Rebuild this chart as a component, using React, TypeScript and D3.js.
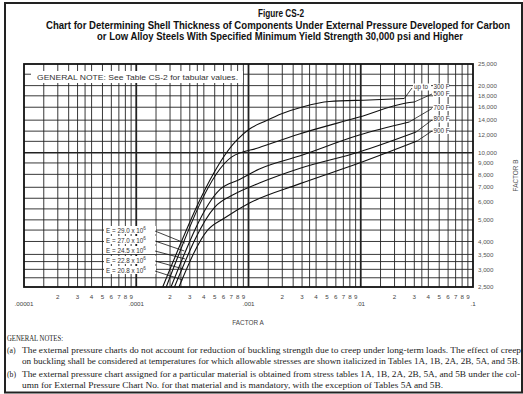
import * as d3 from "d3";

// ---- data ----
const decades = [1e-5, 1e-4, 1e-3, 1e-2];
const decadeLabels = [".00001", ".0001", ".001", ".01", ".1"];
const decadeValues = [1e-5, 1e-4, 1e-3, 1e-2, 1e-1];
const minorMultipliers = [1.5, 2, 2.5, 3, 3.5, 4, 5, 6, 7, 8, 9];
const minorLabels = [2, 3, 4, 5, 6, 7, 8, 9];

const bTicks = [25000, 20000, 18000, 16000, 14000, 12000, 10000, 9000, 8000, 7000, 6000, 5000, 4000, 3500, 3000, 2500];
const bGrid = [22500, 20000, 18000, 16000, 14000, 12500, 11250, 10000, 9000, 8000, 7000, 6250, 5600, 5000, 4500, 4000, 3500, 3250, 3000, 2750];

const tempLabels = ["300 F", "500 F", "700 F", "800 F", "900 F"];
const modulusLabels = ["29.0", "27.0", "24.5", "22.8", "20.8"];

const a300 = [1.72e-4, 7.86e-4, 1.02e-3, 1.39e-3, 2.0e-3, 3.02e-3, 5.25e-3, 1.19e-2, 2.44e-2];
const b300 = [2500, 11400, 12780, 13820, 15000, 16040, 16970, 17240, 17500];
const a500 = [1.85e-4, 7.1e-4, 1.25e-3, 2.84e-3, 9.7e-3, 2.54e-2, 2.99e-2];
const b500 = [2500, 9580, 10550, 12140, 14460, 16700, 16880];
const a700 = [2.04e-4, 5.61e-4, 8.32e-4, 1.25e-3, 2.84e-3, 9.7e-3, 2.7e-2];
const b700 = [2500, 6870, 7585, 8455, 9670, 12010, 13740];
const a800 = [2.19e-4, 5.01e-4, 7.52e-4, 1.25e-3, 2.84e-3, 9.7e-3, 3.11e-2];
const b800 = [2500, 5710, 6530, 7315, 8500, 10080, 12390];
const a900 = [2.4e-4, 4.34e-4, 6.12e-4, 1.02e-3, 2.84e-3, 9.7e-3, 3.18e-2];
const b900 = [2500, 4510, 5100, 5950, 7250, 8995, 11290];

const curvesA = [a300, a500, a700, a800, a900];
const curvesB = [b300, b500, b700, b800, b900];

// where the E leaders touch the straight part of each line
const leaderB = [3935, 3625, 3340, 3010, 2690];

const titleLines = [
  "Figure CS-2",
  "Chart for Determining Shell Thickness of Components Under External Pressure Developed for Carbon",
  "or Low Alloy Steels With Specified Minimum Yield Strength 30,000 psi and Higher",
];

const noteLines = [
  "The external pressure charts do not account for reduction of buckling strength due to creep under long-term loads. The effect of creep",
  "on buckling shall be considered at temperatures for which allowable stresses are shown italicized in Tables 1A, 1B, 2A, 2B, 5A, and 5B.",
  "The external pressure chart assigned for a particular material is obtained from stress tables 1A, 1B, 2A, 2B, 5A, and 5B under the col-",
  "umn for External Pressure Chart No. for that material and is mandatory, with the exception of Tables 5A and 5B.",
];

const W = 523;
const H = 394;
const left = 24, right = 473, top = 64, bottom = 287;

const sans = "'Liberation Sans', Arial, Helvetica, sans-serif";
const serif = "'Liberation Serif', 'DejaVu Serif', serif";

export default function App() {
  const x = d3.scaleLog().domain([1e-5, 1e-1]).range([left, right]);
  const y = d3.scaleLog().domain([2500, 25000]).range([bottom, top]);
  const fmt = d3.format(",");

  const line = d3
    .line<[number, number]>()
    .x((d) => x(d[0]))
    .y((d) => y(d[1]))
    .curve(d3.curveMonotoneX);

  const curves = curvesA.map((as, i) => as.map((a, j) => [a, curvesB[i][j]] as [number, number]));

  const minorGrid = decades.flatMap((d) => minorMultipliers.map((m) => d * m));

  // point on the straight (elastic) part of a curve for a given B
  const onElastic = (i: number, b: number) => {
    const [a0, b0] = curves[i][0];
    const [a1, b1] = curves[i][1];
    const k = Math.log(a1 / a0) / Math.log(b1 / b0);
    return [x(a0 * Math.pow(b / b0, k)), y(b)];
  };

  const eLabelY = [231, 241, 251, 261, 271];
  const tempLabelY = [89, 95.5, 109.5, 121, 132.5];
  const tempLeaderEnd: [number, number][] = [
    [412, 88],
    [432, 94],
    [432, 108.5],
    [432, 120],
    [432, 131],
  ];

  // title: centre x, baseline y, target width
  const titlePos = [
    [281, 17, 46],
    [278, 28.5, 464],
    [280, 40, 366],
  ];
  const squeeze = 0.8;

  return (
    <svg width={W} height={H} style={{ position: "absolute", left: 0, top: 0, background: "#fff" }}>
      <rect x={5} y={3} width={517} height={389.5} fill="#fff" stroke="#222" strokeWidth={2} />

      {/* title */}
      <g fontFamily={sans} fontWeight="bold" fontSize={10.2} fill="#111" textAnchor="middle">
        {titleLines.map((t, i) => {
          const [cx, cy, w] = titlePos[i];
          return (
            <text
              key={i}
              transform={`translate(${cx},${cy}) scale(${squeeze},1)`}
              textLength={w / squeeze}
              lengthAdjust="spacingAndGlyphs"
            >
              {t}
            </text>
          );
        })}
      </g>

      {/* grid */}
      <g stroke="#222" strokeWidth={0.9}>
        {minorGrid.map((v, i) => (
          <line key={"v" + i} x1={x(v)} x2={x(v)} y1={top} y2={bottom} />
        ))}
        {bGrid.map((v, i) => (
          <line key={"h" + i} x1={left} x2={right} y1={y(v)} y2={y(v)} strokeWidth={v === 10000 ? 1.6 : 0.9} />
        ))}
        {decadeValues.slice(1, 4).map((v, i) => (
          <line key={"d" + i} x1={x(v)} x2={x(v)} y1={top} y2={bottom} strokeWidth={1.8} />
        ))}
      </g>
      <rect x={left} y={top} width={right - left} height={bottom - top} fill="none" stroke="#111" strokeWidth={1.8} />

      {/* general note box */}
      <rect x={31} y={71} width={212} height={12} fill="#fff" />
      <text x={37} y={79.5} fontFamily={sans} fontSize={7.6} fill="#333" textLength={201} lengthAdjust="spacingAndGlyphs">
        GENERAL NOTE: See Table CS-2 for tabular values.
      </text>

      {/* curves */}
      <g fill="none" stroke="#111" strokeWidth={1.1}>
        {curves.map((c, i) => (
          <path key={i} d={line(c) || ""} />
        ))}
      </g>

      {/* temperature labels */}
      <g fontFamily={sans} fontSize={6.3} fill="#333">
        {tempLabels.map((t, i) => {
          const last = curves[i][curves[i].length - 1];
          const [ex, ey] = tempLeaderEnd[i];
          return (
            <g key={t}>
              <line x1={x(last[0])} y1={y(last[1])} x2={ex} y2={ey} stroke="#111" strokeWidth={0.8} />
              <rect x={433} y={tempLabelY[i] - 5.5} width={16} height={7} fill="#fff" />
              <text x={433.5} y={tempLabelY[i]}>{t}</text>
            </g>
          );
        })}
        <rect x={413} y={tempLabelY[0] - 5.5} width={18} height={7} fill="#fff" />
        <text x={414} y={tempLabelY[0]}>up to</text>
      </g>

      {/* modulus labels */}
      <g fontFamily={sans} fontSize={6.3} fill="#333">
        {modulusLabels.map((m, i) => {
          const [px, py] = onElastic(i, leaderB[i]);
          return (
            <g key={m}>
              <rect x={104} y={eLabelY[i] - 5} width={52} height={8} fill="#fff" />
              <text x={106} y={eLabelY[i] + 2}>
                E = {m} x 10
                <tspan fontSize={4.6} dy={-2.6}>6</tspan>
              </text>
              <line x1={155} y1={eLabelY[i]} x2={px} y2={py} stroke="#111" strokeWidth={0.8} />
            </g>
          );
        })}
      </g>

      {/* y axis labels */}
      <g fontFamily={sans} fontSize={6.2} fill="#555">
        {bTicks.map((t) => (
          <text key={t} x={478} y={y(t) + 2.2}>{fmt(t)}</text>
        ))}
        <text transform={`translate(518,${(top + bottom) / 2}) rotate(-90)`} textAnchor="middle" fontSize={6.4}>
          FACTOR B
        </text>
      </g>

      {/* x axis labels */}
      <g fontFamily={sans} fontSize={6.2} fill="#444" textAnchor="middle">
        {decades.flatMap((d) =>
          minorLabels.map((m) => (
            <text key={d + "-" + m} x={x(d * m)} y={299}>{m}</text>
          ))
        )}
        {decadeValues.map((v, i) => (
          <text key={v} x={x(v)} y={306}>{decadeLabels[i]}</text>
        ))}
        <text x={248} y={325} fontSize={6.4}>FACTOR A</text>
      </g>

      {/* notes */}
      <g fontFamily={serif} fontSize={7.7} fill="#222">
        <text x={7} y={341} textLength={56} lengthAdjust="spacingAndGlyphs">GENERAL NOTES:</text>
        <text x={7} y={352.5}>(a)</text>
        <text x={22} y={352.5} textLength={499} lengthAdjust="spacingAndGlyphs">{noteLines[0]}</text>
        <text x={22} y={364} textLength={498} lengthAdjust="spacingAndGlyphs">{noteLines[1]}</text>
        <text x={7} y={376.5}>(b)</text>
        <text x={22} y={376.5} textLength={498} lengthAdjust="spacingAndGlyphs">{noteLines[2]}</text>
        <text x={22} y={387.5} textLength={421} lengthAdjust="spacingAndGlyphs">{noteLines[3]}</text>
      </g>
    </svg>
  );
}
